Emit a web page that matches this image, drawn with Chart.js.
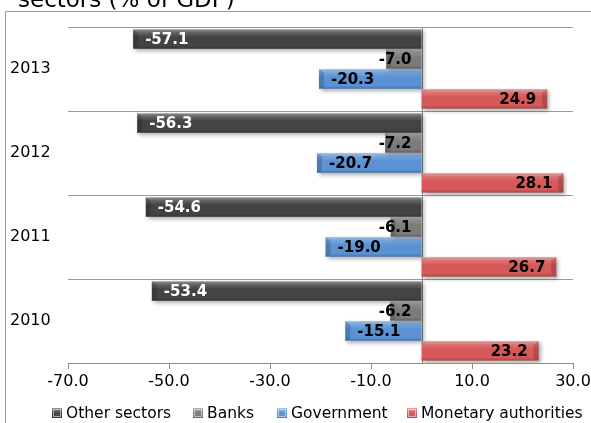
<!DOCTYPE html>
<html>
<head>
<meta charset="utf-8">
<script src="https://cdn.jsdelivr.net/npm/chart.js@4/dist/chart.umd.min.js"></script>
<style>
  html, body { margin: 0; padding: 0; background: #ffffff; }
  #wrap { width: 591px; height: 423px; }
</style>
</head>
<body>
<div id="wrap"><canvas id="c" width="591" height="423"></canvas></div>
<script>
// Financial account position by sector, % of GDP
const years = ['2013', '2012', '2011', '2010'];
const otherSectors = [-57.1, -56.3, -54.6, -53.4];
const banks = [-7.0, -7.2, -6.1, -6.2];
const government = [-20.3, -20.7, -19.0, -15.1];
const monetaryAuthorities = [24.9, 28.1, 26.7, 23.2];
const xTickValues = [-70, -50, -30, -10, 10, 30];

const seriesNames = ['Other sectors', 'Banks', 'Government', 'Monetary authorities'];
const seriesColors = ['#434343', '#7b7b7b', '#5a92d4', '#d65858'];
const valueLabelColors = ['#ffffff', '#000000', '#000000', '#000000'];
const titleText = 'sectors (% of GDP)';

const FONT = '"DejaVu Sans", Verdana, sans-serif';

// frame and the clipped title line
const framePlugin = {
  id: 'frame',
  beforeDraw(chart) {
    const { ctx } = chart;
    ctx.save();
    ctx.fillStyle = '#ffffff';
    ctx.fillRect(0, 0, chart.width, chart.height);
    ctx.strokeStyle = '#9a9a9a';
    ctx.lineWidth = 1;
    ctx.beginPath();
    ctx.moveTo(5.5, chart.height);
    ctx.lineTo(5.5, 11.5);
    ctx.lineTo(chart.width, 11.5);
    ctx.stroke();
    ctx.fillStyle = '#000000';
    ctx.font = '23px ' + FONT;
    ctx.textBaseline = 'alphabetic';
    ctx.textAlign = 'left';
    ctx.fillText(titleText, 18, 7);
    ctx.restore();
  }
};

// zero line, shaded bars with shadow and bevel, value labels
const bevelPlugin = {
  id: 'bevel',
  beforeDatasetsDraw(chart) {
    const { ctx, chartArea, scales } = chart;
    const x0 = Math.round(scales.x.getPixelForValue(0)) + 0.5;
    ctx.save();
    ctx.strokeStyle = '#8c8c8c';
    ctx.lineWidth = 1;
    ctx.beginPath();
    ctx.moveTo(x0, chartArea.top);
    ctx.lineTo(x0, chartArea.bottom);
    ctx.stroke();
    ctx.restore();
    ctx.save();
    ctx.shadowColor = 'rgba(0,0,0,0.32)';
    ctx.shadowBlur = 4;
    ctx.shadowOffsetX = 2;
    ctx.shadowOffsetY = 2;
  },
  afterDatasetsDraw(chart) {
    const { ctx } = chart;
    ctx.restore();
    chart.data.datasets.forEach((ds, di) => {
      const meta = chart.getDatasetMeta(di);
      if (meta.hidden) return;
      meta.data.forEach((bar, i) => {
        const { x, y, base, height } = bar.getProps(['x', 'y', 'base', 'height'], true);
        const left = Math.min(x, base), right = Math.max(x, base);
        const top = y - height / 2, bottom = y + height / 2;
        ctx.save();
        const g = ctx.createLinearGradient(0, top, 0, bottom);
        g.addColorStop(0, 'rgba(255,255,255,0.40)');
        g.addColorStop(0.16, 'rgba(255,255,255,0.18)');
        g.addColorStop(0.4, 'rgba(255,255,255,0)');
        g.addColorStop(0.85, 'rgba(0,0,0,0)');
        g.addColorStop(1, 'rgba(0,0,0,0.22)');
        ctx.fillStyle = g;
        ctx.fillRect(left, top, right - left, height);
        // chamfered end cap
        const neg = x < base;
        const w = 5;
        ctx.beginPath();
        if (neg) {
          ctx.moveTo(x, top); ctx.lineTo(x + w, top + 3);
          ctx.lineTo(x + w, bottom - 2); ctx.lineTo(x, bottom);
        } else {
          ctx.moveTo(x, top); ctx.lineTo(x - w, top + 3);
          ctx.lineTo(x - w, bottom - 2); ctx.lineTo(x, bottom);
        }
        ctx.closePath();
        ctx.fillStyle = 'rgba(0,0,0,0.16)';
        ctx.fill();
        // value label
        const v = ds.data[i];
        const txt = v.toFixed(1);
        ctx.font = 'bold 15px ' + FONT;
        ctx.textBaseline = 'middle';
        ctx.fillStyle = valueLabelColors[di];
        const tw = ctx.measureText(txt).width;
        if (neg) {
          ctx.textAlign = 'left';
          ctx.fillText(txt, Math.min(x + 12, base - 10 - tw), y + 1.5);
        } else {
          ctx.textAlign = 'right';
          ctx.fillText(txt, Math.max(x - 11, base + 10 + tw), y + 1.5);
        }
        ctx.restore();
      });
    });
  }
};

// legend row under the axis
const legendPlugin = {
  id: 'legendRow',
  afterDraw(chart) {
    const { ctx } = chart;
    const markerX = [52, 193, 277, 407];
    const cy = 413;
    ctx.save();
    ctx.font = '15.5px ' + FONT;
    ctx.textBaseline = 'middle';
    ctx.textAlign = 'left';
    seriesNames.forEach((name, i) => {
      const mx = markerX[i];
      ctx.fillStyle = seriesColors[i];
      ctx.fillRect(mx, cy - 5, 10, 10);
      const g = ctx.createLinearGradient(0, cy - 5, 0, cy + 5);
      g.addColorStop(0, 'rgba(255,255,255,0.45)');
      g.addColorStop(0.5, 'rgba(255,255,255,0)');
      g.addColorStop(1, 'rgba(0,0,0,0.2)');
      ctx.fillStyle = g;
      ctx.fillRect(mx, cy - 5, 10, 10);
      ctx.strokeStyle = 'rgba(255,255,255,0.5)';
      ctx.lineWidth = 1;
      ctx.strokeRect(mx + 1.5, cy - 3.5, 7, 7);
      ctx.fillStyle = '#000000';
      ctx.fillText(name, mx + 14, cy + 0.5);
    });
    ctx.restore();
  }
};

const seriesData = [otherSectors, banks, government, monetaryAuthorities];

new Chart(document.getElementById('c'), {
  type: 'bar',
  data: {
    labels: years,
    datasets: seriesNames.map((name, i) => ({
      label: name,
      data: seriesData[i],
      backgroundColor: seriesColors[i],
      borderWidth: 0,
      categoryPercentage: 0.95,
      barPercentage: 0.97
    }))
  },
  options: {
    indexAxis: 'y',
    responsive: false,
    animation: false,
    devicePixelRatio: 1,
    layout: { padding: { left: 10, right: 0, top: 27, bottom: 30 } },
    plugins: {
      legend: { display: false },
      tooltip: { enabled: false },
      title: { display: false }
    },
    scales: {
      x: {
        type: 'linear',
        min: -70,
        max: 30,
        afterBuildTicks(scale) {
          scale.ticks = xTickValues.map(v => ({ value: v }));
        },
        afterFit(scale) {
          scale.height = 30;
          scale.paddingRight = 18;
        },
        grid: {
          drawOnChartArea: false,
          drawTicks: true,
          tickLength: 6,
          color: '#8c8c8c'
        },
        border: { display: true, color: '#8c8c8c' },
        ticks: {
          color: '#000000',
          padding: 3,
          maxRotation: 0,
          autoSkip: false,
          font: { family: FONT, size: 16 },
          callback: v => Number(v).toFixed(1)
        }
      },
      y: {
        type: 'category',
        afterFit(scale) { scale.width = 58; },
        grid: {
          drawOnChartArea: true,
          drawTicks: false,
          offset: true,
          color: '#9a9a9a'
        },
        border: { display: false },
        ticks: {
          color: '#000000',
          crossAlign: 'far',
          font: { family: FONT, size: 16 }
        }
      }
    }
  },
  plugins: [framePlugin, bevelPlugin, legendPlugin]
});
</script>
</body>
</html>
